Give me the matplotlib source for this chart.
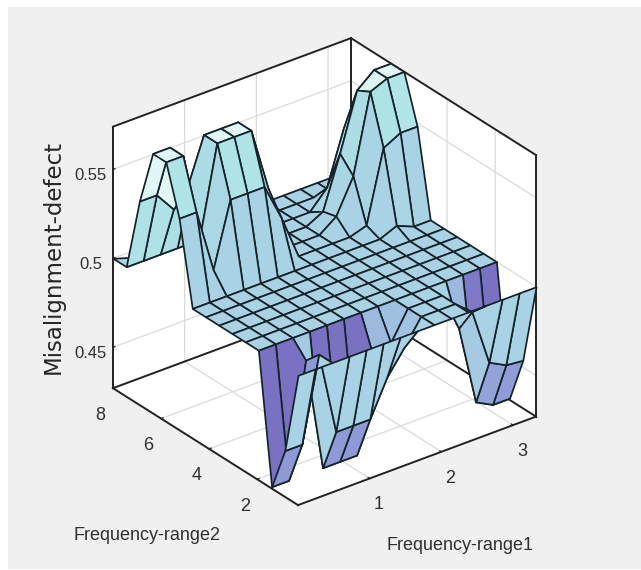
import numpy as np
import matplotlib
matplotlib.use('Agg')
import matplotlib.pyplot as plt
from matplotlib.colors import LinearSegmentedColormap, Normalize
from matplotlib.patches import Rectangle
from mpl_toolkits.mplot3d import proj3d
from mpl_toolkits.mplot3d.art3d import Poly3DCollection

# ---------- data ----------
x_range = (0.0, 3.32)
y_range = (0.3, 8.0)
z_range = (0.427, 0.574)
x_ticks = [1, 2, 3]
y_ticks = [2, 4, 6, 8]
z_ticks = [0.45, 0.5, 0.55]
z_tick_labels = ['0.45', '0.5', '0.55']
x_label = 'Frequency-range1'
y_label = 'Frequency-range2'
z_label = 'Misalignment-defect'

x_grid = [0.0, 0.237, 0.474, 0.711, 0.949, 1.186, 1.423, 1.66, 1.897, 2.134, 2.371, 2.609, 2.846, 3.083, 3.32]
y_grid = [0.3, 0.85, 1.4, 1.95, 2.5, 3.05, 3.6, 4.15, 4.7, 5.25, 5.8, 6.35, 6.9, 7.45, 8.0]

row00 = [.5]*15
row01 = [.453, .453, .5, .453, .453, .453, .473, .486, .5, .5, .5, .492, .46, .455, .454]
row02 = [.428, .428, .492, .428, .428, .428, .479, .484, .5, .5, .5, .478, .433, .428, .428]
row03 = [.5]*15
row04 = [.5]*15
row05 = [.5]*15
row06 = [.5]*15
row07 = [.5]*15
row08 = [.5, .5, .5, .5, .5, .5, .5, .5, .5, .5, .5, .5, .504, .5, .5]
row09 = [.546, .546, .51, .546, .546, .546, .525, .5, .5, .5, .5, .503, .543, .548, .548]
row10 = [.573, .573, .524, .573, .573, .573, .537, .5, .5, .5, .507, .526, .570, .574, .574]
row11 = [.573, .573, .546, .573, .573, .573, .537, .5, .5, .5, .505, .534, .566, .574, .574]
row12 = [.5416, .5416, .53, .54, .54, .54, .52, .5, .5, .5, .5, .51, .54, .54, .54]
row13 = [.5, .5, .5, .5, .5, .5, .5, .5, .5, .5, .5, .5, .5, .5, .5]
row14 = [.5, .497, .5, .5, .5, .5, .5, .5, .5, .5, .5, .5, .5, .5, .5]

Z = np.array([row00, row01, row02, row03, row04, row05, row06, row07, row08,
              row09, row10, row11, row12, row13, row14])
X, Y = np.meshgrid(x_grid, y_grid)

cmap = LinearSegmentedColormap.from_list('surf', [
    (0.0, '#7a70c2'), (0.17, '#8e98d6'), (0.49, '#a9d3e4'),
    (0.81, '#aee4e6'), (1.0, '#e2f6f6')])
norm = Normalize(*z_range)
colors = cmap(norm(Z))

# ---------- figure ----------
W, H = 641, 570
fig = plt.figure(figsize=(W/100, H/100), dpi=100, facecolor='white')
fig.add_artist(Rectangle((8/W, 1/H), (W-8)/W, (569-7)/H, transform=fig.transFigure,
                         facecolor='#f0f0f0', edgecolor='none', zorder=-5))
ax = fig.add_axes([0.1, 0.1, 0.8, 0.8], projection='3d', computed_zorder=False)
ax.patch.set_alpha(0)
ax.set_proj_type('ortho')
ax.view_init(elev=29, azim=-127.5)
ax.set_box_aspect((299, 303, 298))
ax.set_xlim(*x_range); ax.set_ylim(*y_range); ax.set_zlim(*z_range)

# the surface, one cell at a time from the far corner to the near one
nz = 3
for j in range(Z.shape[0] - 2, -1, -1):
    for i in range(Z.shape[1] - 2, -1, -1):
        quad = [(X[j, i], Y[j, i], Z[j, i]), (X[j, i+1], Y[j, i+1], Z[j, i+1]),
                (X[j+1, i+1], Y[j+1, i+1], Z[j+1, i+1]), (X[j+1, i], Y[j+1, i], Z[j+1, i])]
        ax.add_collection3d(Poly3DCollection([quad], facecolors=[colors[j, i]], edgecolors='#14222a',
                                             linewidths=1.25, zorder=nz))
        nz += 1

# panes, grid and ticks
for a in (ax.xaxis, ax.yaxis, ax.zaxis):
    a.set_pane_color((1, 1, 1, 1))
    a.pane.set_edgecolor('none')
    a.line.set_color((0, 0, 0, 0))
    a._axinfo['grid'].update(color='#dadada', linewidth=0.9)
    a._axinfo['tick'].update(inward_factor=0.0, outward_factor=0.1, linewidth={True: 1.0, False: 0.5})

lab = dict(family='Liberation Sans', size=13, color='#303030')
ax.set_xticks(x_ticks); ax.set_xticklabels([str(v) for v in x_ticks], **lab)
ax.set_yticks(y_ticks); ax.set_yticklabels([str(v) for v in y_ticks], **lab)
ax.set_zticks(z_ticks); ax.set_zticklabels(z_tick_labels, **dict(lab, size=12))
ax.tick_params(axis='x', pad=1, colors='#303030')
ax.tick_params(axis='y', pad=2, colors='#303030')
ax.tick_params(axis='z', pad=2, colors='#303030')
ax.zaxis.set_ticks_position('upper')

# box edges
x0, x1 = x_range; y0, y1 = y_range; z0, z1 = z_range
edges = [((x0, y1, z0), (x0, y1, z1)), ((x1, y0, z0), (x1, y0, z1)), ((x1, y1, z0), (x1, y1, z1)),
         ((x0, y1, z1), (x1, y1, z1)), ((x1, y0, z1), (x1, y1, z1)),
         ((x0, y0, z0), (x1, y0, z0)), ((x0, y0, z0), (x0, y1, z0)), ((x1, y0, z0), (x1, y1, z0)),
         ((x0, y1, z0), (x1, y1, z0))]
for p, q in edges:
    ax.plot(*zip(p, q), color='#222222', lw=1.4, zorder=1)

# fit the box onto the reference corners (pixels, y down)
corners3 = [(x0, y0, z0), (x1, y0, z0), (x0, y1, z0), (x1, y1, z1)]
target = np.array([(298, 505), (535, 418), (113, 388), (352, 37)], float)
for _ in range(3):
    fig.canvas.draw()
    pts = []
    for c in corners3:
        u, v, _w = proj3d.proj_transform(*c, ax.get_proj())
        pts.append(ax.transData.transform((u, v)))
    pts = np.array(pts); pts[:, 1] = H - pts[:, 1]
    s = (np.ptp(target[:, 0]) + np.ptp(target[:, 1])) / (np.ptp(pts[:, 0]) + np.ptp(pts[:, 1]))
    shift = target.mean(0) - pts.mean(0)
    b = ax.get_position()
    cx = (b.x0 + b.x1) / 2 * W + shift[0]; cy = (b.y0 + b.y1) / 2 * H - shift[1]
    off = pts.mean(0) - np.array([(b.x0 + b.x1) / 2 * W, H - (b.y0 + b.y1) / 2 * H])
    cx += off[0] * (1 - s); cy -= off[1] * (1 - s)
    w = b.width * W * s; h = b.height * H * s
    ax.set_position([(cx - w / 2) / W, (cy - h / 2) / H, w / W, h / H])

# axis titles
fig.text(460/W, 1 - 545/H, x_label, ha='center', va='center', **lab)
fig.text(147/W, 1 - 536/H, y_label, ha='center', va='center', **lab)
fig.text(53/W, 1 - 257/H, z_label, ha='center', va='center', rotation=90,
         family='DejaVu Sans', size=16.5, color='#262626')

fig.savefig('out.png', dpi=100, facecolor='white')
